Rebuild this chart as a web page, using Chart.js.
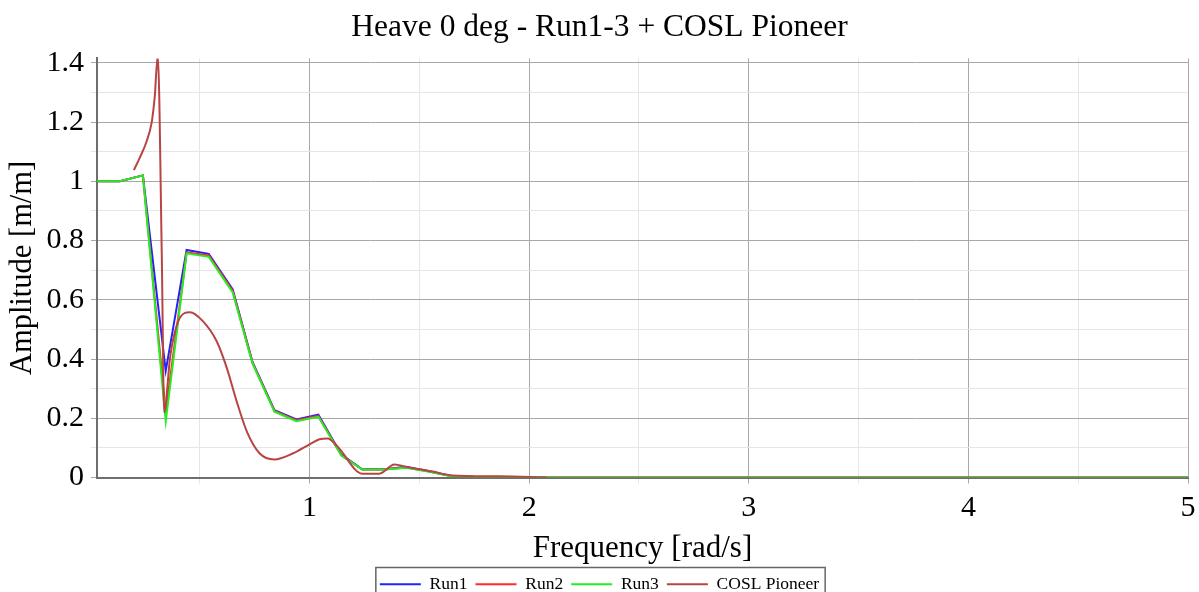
<!DOCTYPE html>
<html>
<head>
<meta charset="utf-8">
<script src="https://cdn.jsdelivr.net/npm/chart.js@4.4.1/dist/chart.umd.min.js"></script>
<style>
html, body { margin: 0; padding: 0; overflow: hidden; background: #fff; }
#wrap { width: 1199px; height: 603px; position: relative; }
</style>
</head>
<body>
<div id="wrap"><canvas id="myChart"></canvas></div>
<script>
// frequencies [rad/s] shared by the three model runs
const freq = [0.032, 0.136, 0.241, 0.345, 0.44, 0.541, 0.65, 0.74, 0.84, 0.94, 1.04, 1.145, 1.24, 1.34, 1.44, 1.54, 1.65, 1.75, 1.86, 2.0, 2.5, 3.0, 3.5, 4.0, 4.5, 5.0];
const run1 = [1.0, 1.0, 1.02, 0.36, 0.768, 0.755, 0.635, 0.39, 0.227, 0.196, 0.212, 0.077, 0.028, 0.028, 0.036, 0.022, 0.004, 0.002, 0.001, 0, 0, 0, 0, 0, 0, 0];
const run2 = [1.0, 1.0, 1.02, 0.22, 0.76, 0.75, 0.63, 0.388, 0.225, 0.193, 0.208, 0.075, 0.027, 0.027, 0.034, 0.021, 0.004, 0.002, 0.001, 0, 0, 0, 0, 0, 0, 0];
const run3 = [1.0, 1.0, 1.02, 0.19, 0.757, 0.745, 0.625, 0.385, 0.222, 0.19, 0.205, 0.074, 0.027, 0.027, 0.033, 0.02, 0.003, 0.002, 0.001, 0, 0, 0, 0, 0, 0, 0];

// COSL Pioneer reference curve
const freqCosl = [0.2, 0.227, 0.259, 0.28, 0.29, 0.297, 0.301, 0.306, 0.309, 0.327, 0.338, 0.364, 0.377, 0.41, 0.455, 0.514, 0.577, 0.623, 0.668, 0.714, 0.773, 0.84, 0.923, 1.0, 1.045, 1.082, 1.127, 1.24, 1.318, 1.386, 1.445, 1.56, 1.65, 1.86, 2.08];
const amplCosl = [1.038, 1.08, 1.137, 1.195, 1.25, 1.305, 1.36, 1.405, 1.42, 0.75, 0.22, 0.40, 0.46, 0.54, 0.558, 0.528, 0.46, 0.37, 0.257, 0.156, 0.081, 0.061, 0.081, 0.112, 0.129, 0.132, 0.105, 0.013, 0.013, 0.044, 0.035, 0.02, 0.007, 0.004, 0.0];

const xTicks = [0.5, 1, 1.5, 2, 2.5, 3, 3.5, 4, 4.5, 5];
const yTicks = [0, 0.1, 0.2, 0.3, 0.4, 0.5, 0.6, 0.7, 0.8, 0.9, 1.0, 1.1, 1.2, 1.3, 1.4];

const serif = "'Liberation Serif', 'DejaVu Serif', serif";

function pairs(xs, ys) {
    return xs.map(function (x, i) { return { x: x, y: ys[i] }; });
}

// frame drawn round the legend, as in the original
const legendBorder = {
    id: 'legendBorder',
    afterDraw(chart) {
        const lg = chart.legend;
        if (!lg || !lg.legendHitBoxes || !lg.legendHitBoxes.length) return;
        const boxes = lg.legendHitBoxes;
        const left = Math.min(...boxes.map(b => b.left)) - 4;
        const right = Math.max(...boxes.map(b => b.left + b.width)) + 6;
        const top = boxes[0].top - 8;
        const bottom = boxes[0].top + boxes[0].height + 10;
        const ctx = chart.ctx;
        ctx.save();
        ctx.strokeStyle = '#666';
        ctx.lineWidth = 1.5;
        ctx.strokeRect(left, top, right - left, bottom - top);
        ctx.restore();
    }
};

const ctx = document.getElementById('myChart').getContext('2d');
const config = {
    type: 'line',
    data: {
        datasets: [{
            label: 'Run1',
            data: pairs(freq, run1),
            borderColor: '#2222ff',
            borderWidth: 2,
            order: 3
        }, {
            label: 'Run2',
            data: pairs(freq, run2),
            borderColor: '#ff2a2a',
            borderWidth: 2,
            order: 2
        }, {
            label: 'Run3',
            data: pairs(freq, run3),
            borderColor: '#22ee22',
            borderWidth: 2,
            order: 1
        }, {
            label: 'COSL Pioneer',
            data: pairs(freqCosl, amplCosl),
            borderColor: '#b84444',
            borderWidth: 2,
            cubicInterpolationMode: 'monotone',
            order: 0
        }]
    },
    options: {
        responsive: true,
        maintainAspectRatio: false,
        animation: false,
        events: [],
        elements: {
            point: { radius: 0 },
            line: { tension: 0, fill: false }
        },
        layout: { padding: 0 },
        plugins: {
            title: {
                display: true,
                text: 'Heave 0 deg - Run1-3 + COSL Pioneer',
                color: '#000',
                font: { family: serif, size: 31.5, weight: 'normal' },
                padding: { top: 9, bottom: 11.6 }
            },
            legend: {
                display: true,
                position: 'bottom',
                labels: {
                    color: '#000',
                    font: { family: serif, size: 17.5 },
                    usePointStyle: true,
                    pointStyle: 'line',
                    pointStyleWidth: 41,
                    padding: 8,
                    sort: function (a, b) { return a.datasetIndex - b.datasetIndex; }
                }
            },
            tooltip: { enabled: false }
        },
        scales: {
            x: {
                type: 'linear',
                min: 0.032,
                max: 5,
                afterBuildTicks: function (scale) {
                    scale.ticks = xTicks.map(v => ({ value: v }));
                },
                afterFit: function (scale) {
                    scale.paddingRight = 11;
                    scale.height = 90;
                },
                ticks: {
                    autoSkip: false,
                    maxRotation: 0,
                    color: '#000',
                    padding: 7,
                    font: { family: serif, size: 30 },
                    callback: function (v) {
                        return Number.isInteger(v) ? String(v) : '';
                    }
                },
                grid: {
                    color: function (c) {
                        return c.tick && Number.isInteger(c.tick.value) ? '#a8a8a8' : '#e6e6e6';
                    },
                    lineWidth: 1,
                    tickLength: 6
                },
                border: { color: '#6e6e6e', width: 2 },
                title: {
                    display: true,
                    text: 'Frequency [rad/s]',
                    color: '#000',
                    font: { family: serif, size: 31 },
                    padding: { top: 0, bottom: 0 }
                }
            },
            y: {
                min: 0,
                max: 1.415,
                afterBuildTicks: function (scale) {
                    scale.ticks = yTicks.map(v => ({ value: v }));
                },
                afterFit: function (scale) {
                    scale.width = 97;
                },
                ticks: {
                    autoSkip: false,
                    color: '#000',
                    padding: 7,
                    font: { family: serif, size: 30 },
                    callback: function (v) {
                        return Math.round(v * 10) % 2 === 0 ? String(+v.toFixed(1)) : '';
                    }
                },
                grid: {
                    color: function (c) {
                        if (!c.tick) return '#e6e6e6';
                        return Math.round(c.tick.value * 10) % 2 === 0 ? '#a8a8a8' : '#e6e6e6';
                    },
                    lineWidth: 1,
                    tickLength: 6
                },
                border: { color: '#6e6e6e', width: 2 },
                title: {
                    display: true,
                    text: 'Amplitude [m/m]',
                    color: '#000',
                    font: { family: serif, size: 30.5 },
                    padding: { top: 5, bottom: 0 }
                }
            }
        }
    },
    plugins: [legendBorder]
};
const myChart = new Chart(ctx, config);
</script>
</body>
</html>
